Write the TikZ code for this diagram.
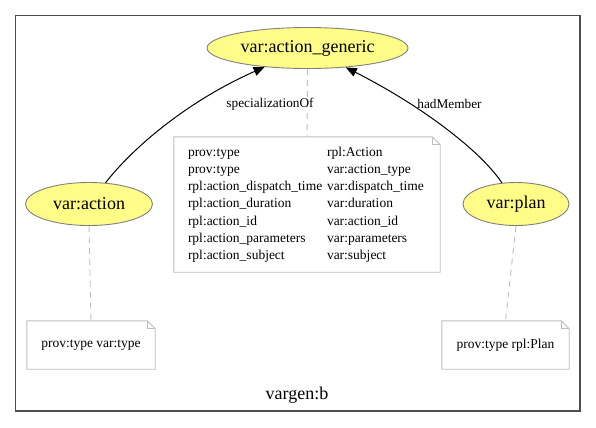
\documentclass[tikz,border=0pt]{standalone}
\usepackage{fontspec}
\setmainfont{Liberation Serif}
\usetikzlibrary{shapes.geometric,arrows.meta}
\definecolor{provyellow}{HTML}{FFFC87}
\definecolor{notegray}{gray}{0.75}
\definecolor{framegray}{gray}{0.3}
\newcommand\drawnote[1]{%
  \draw[notegray, line width=0.9bp, line join=miter] (#1.south west) -- (#1.north west) -- ([xshift=-8bp]#1.north east) -- ([yshift=-8bp]#1.north east) -- (#1.south east) -- cycle;
  \draw[notegray, line width=0.9bp] ([xshift=-8bp]#1.north east) |- ([yshift=-8bp]#1.north east);}
\tikzset{
  ent/.style={ellipse, draw=gray, fill=provyellow, line width=0.9bp, inner sep=0pt,
    font=\fontsize{18bp}{21bp}\selectfont},
  notebox/.style={rectangle, inner sep=0pt, font=\fontsize{13.5bp}{17.3bp}\selectfont},
  edge/.style={line width=1bp, -{Triangle[length=11bp,width=9bp]}},
  lab/.style={font=\fontsize{13.3bp}{16bp}\selectfont, inner sep=0pt},
  dashline/.style={gray!50, line width=0.9bp, dash pattern=on 6bp off 5bp},
}
\begin{document}
\begin{tikzpicture}[x=1bp, y=-1bp]
\fill[white] (0,0) rectangle (596,427);
\useasboundingbox (0,0) rectangle (596,427);
\draw[framegray, line width=1.3bp] (15.5,15.5) rectangle (580,411);
\node[font=\fontsize{18bp}{21bp}\selectfont, inner sep=0pt] (lbl) at (297,395) {vargen:b};

\node[ent, minimum width=201bp, minimum height=41bp] (ag) at (307.5,48) {var:action\_generic};
\node[ent, minimum width=127bp, minimum height=43bp] (act) at (89,204) {var:action};
\node[ent, minimum width=106bp, minimum height=43bp] (plan) at (516,204) {var:plan};

\node[notebox, minimum width=266bp, minimum height=135bp, text width=238bp, inner xsep=14bp, align=left] (nag) at (307,204.5)
{\noindent\begin{tabular}{@{}p{139bp}@{}l@{}}
prov:type & rpl:Action\\
prov:type & var:action\_type\\
rpl:action\_dispatch\_time & var:dispatch\_time\\
rpl:action\_duration & var:duration\\
rpl:action\_id & var:action\_id\\
rpl:action\_parameters & var:parameters\\
rpl:action\_subject & var:subject
\end{tabular}};
\drawnote{nag}

\node[notebox, minimum width=128bp, minimum height=48bp] (n1) at (91,345) {prov:type var:type};
\drawnote{n1}
\node[notebox, minimum width=127bp, minimum height=48bp] (n2) at (505.5,345) {prov:type rpl:Plan};
\drawnote{n2}

\draw[dashline] (ag.south) -- (nag.north);
\draw[dashline] (act.south) -- (n1.north);
\draw[dashline] (plan.south) -- (n2.north);

\draw[edge] (act) .. controls (135,145) and (190,100) .. (ag);
\draw[edge] (plan) .. controls (480,150) and (420,105) .. (ag);
\node[lab] (l1) at (270,104) {specializationOf};
\node[lab] (l2) at (449.5,104) {hadMember};
\end{tikzpicture}
\end{document}
